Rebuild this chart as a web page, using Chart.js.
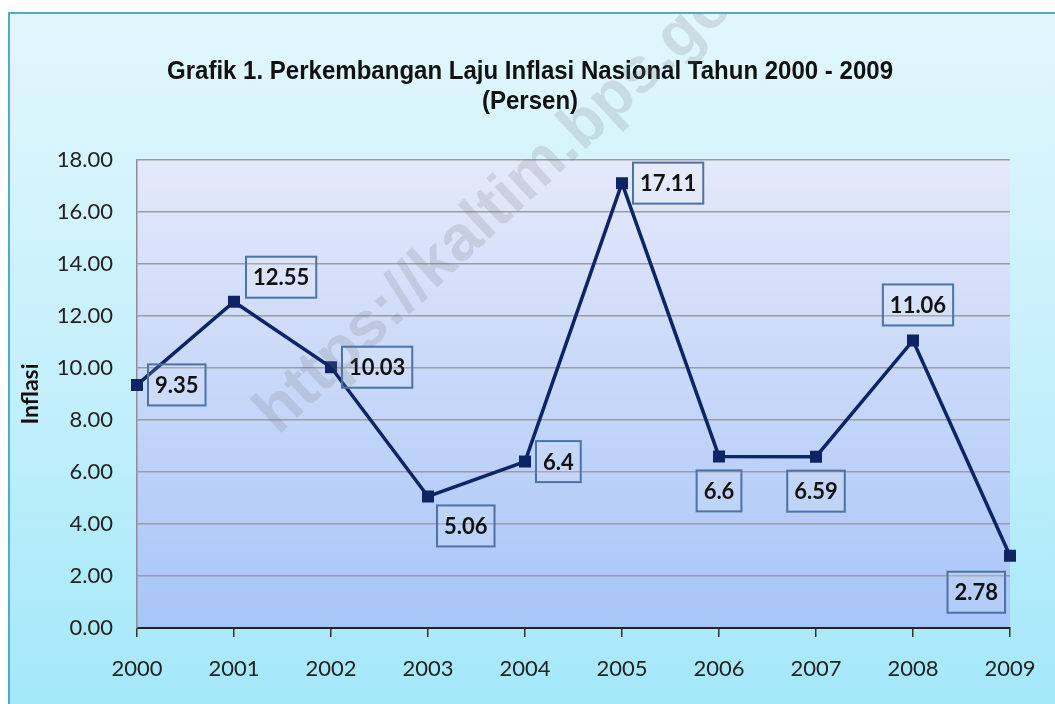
<!DOCTYPE html>
<html>
<head>
<meta charset="utf-8">
<script src="https://cdn.jsdelivr.net/npm/chart.js@4.4.1/dist/chart.umd.min.js"></script>
<style>
  html, body { margin: 0; padding: 0; background: #fff; overflow: hidden; }
  #frame {
    position: absolute; left: 8px; top: 12px;
    width: 1060px; height: 700px;
    border: 2px solid #4aaecb;
    background: linear-gradient(to bottom, #e1f7fc 0%, #c6f0fb 50%, #a3e8f9 100%);
  }
  #frame canvas { display: block; }
</style>
</head>
<body>
<div id="frame"><canvas id="inflasiChart" width="1060" height="700"></canvas></div>
<script>
// data
const years = ["2000","2001","2002","2003","2004","2005","2006","2007","2008","2009"];
const inflasi = [9.35, 12.55, 10.03, 5.06, 6.4, 17.11, 6.6, 6.59, 11.06, 2.78];
const valueLabels = ["9.35","12.55","10.03","5.06","6.4","17.11","6.6","6.59","11.06","2.78"];
// where each label box sits relative to its point
const labelAnchor = ["r","ar","r","br","r","r","b","b","a","bl"];
const titleLines = ["Grafik 1. Perkembangan Laju Inflasi Nasional Tahun 2000 - 2009", "(Persen)"];

// plot area gradient
const plotBg = {
  id: "plotBg",
  beforeDraw(chart) {
    const { ctx, chartArea: a } = chart;
    const g = ctx.createLinearGradient(0, a.top, 0, a.bottom);
    g.addColorStop(0, "#e5e9fa");
    g.addColorStop(1, "#a7c5f8");
    ctx.save();
    ctx.fillStyle = g;
    ctx.fillRect(a.left, a.top, a.right - a.left, a.bottom - a.top);
    ctx.restore();
  }
};

// title + boxed value labels + watermark
const extras = {
  id: "extras",
  afterDraw(chart) {
    const ctx = chart.ctx;
    const pts = chart.getDatasetMeta(0).data;

    // title, squeezed a bit like a narrow font
    ctx.save();
    ctx.fillStyle = "#111";
    ctx.textAlign = "center";
    ctx.textBaseline = "middle";
    ctx.font = "bold 26px 'Liberation Sans', Arial, sans-serif";
    const squeeze = 726 / ctx.measureText(titleLines[0]).width;
    titleLines.forEach((t, i) => {
      const w = ctx.measureText(t).width * squeeze;
      ctx.fillText(t, 520, 58 + i * 30, w);
    });
    ctx.restore();

    ctx.save();
    ctx.font = "bold 22px Lato, 'Open Sans', sans-serif";
    ctx.textBaseline = "middle";
    ctx.textAlign = "center";
    pts.forEach((p, i) => {
      const txt = valueLabels[i];
      const w = ctx.measureText(txt).width + 14;
      const h = 41;
      let bx, by;
      switch (labelAnchor[i]) {
        case "r":  bx = p.x + 11; by = p.y - h / 2; break;
        case "ar": bx = p.x + 12; by = p.y - 4 - h; break;
        case "br": bx = p.x + 9;  by = p.y + 9; break;
        case "b":  bx = p.x - w / 2; by = p.y + 14; break;
        case "a":  bx = p.x + 5 - w / 2; by = p.y - 15 - h; break;
        case "bl": bx = p.x - 5 - w; by = p.y + 16; break;
      }
      ctx.fillStyle = "rgba(255,255,255,0.12)";
      ctx.fillRect(bx, by, w, h);
      ctx.strokeStyle = "#4d72a6";
      ctx.lineWidth = 2;
      ctx.strokeRect(bx, by, w, h);
      ctx.fillStyle = "#111";
      ctx.fillText(txt, bx + w / 2, by + h / 2 + 1);
    });
    ctx.restore();

    // watermark
    ctx.save();
    ctx.translate(512, 170);
    ctx.rotate(-43 * Math.PI / 180);
    ctx.font = "bold 64px 'Liberation Sans', Arial, sans-serif";
    ctx.fillStyle = "rgba(120,120,125,0.2)";
    ctx.textAlign = "center";
    ctx.textBaseline = "middle";
    ctx.fillText("https://kaltim.bps.go.id", 0, 0);
    ctx.restore();
  }
};

new Chart(document.getElementById("inflasiChart"), {
  type: "line",
  data: {
    labels: years,
    datasets: [{
      label: "Inflasi",
      data: inflasi,
      borderColor: "#0e2565",
      backgroundColor: "#0e2565",
      borderWidth: 3.5,
      pointStyle: "rect",
      pointRadius: 6,
      pointHoverRadius: 6,
      tension: 0
    }]
  },
  options: {
    responsive: false,
    animation: false,
    layout: { padding: { top: 146, right: 60, left: 0, bottom: 0 } },
    plugins: {
      legend: { display: false },
      title: { display: false },
      tooltip: { enabled: false }
    },
    scales: {
      x: {
        offset: false,
        afterFit(s) { s.height = 86; },
        grid: {
          drawOnChartArea: false,
          drawTicks: true,
          tickLength: 9,
          color: "#333",
          lineWidth: 1.5
        },
        border: { color: "#222", width: 2 },
        ticks: {
          padding: 19,
          color: "#222",
          maxRotation: 0,
          font: { family: "Lato, 'Open Sans', sans-serif", size: 22 }
        }
      },
      y: {
        min: 0,
        max: 18,
        afterFit(s) { s.width = 127; },
        grid: { color: "#9c9ca6", lineWidth: 1.5, drawTicks: false },
        border: { color: "#8e8e96", width: 1.5 },
        ticks: {
          stepSize: 2,
          padding: 24,
          color: "#222",
          font: { family: "Lato, 'Open Sans', sans-serif", size: 22 },
          callback: v => v.toFixed(2)
        },
        title: {
          display: true,
          text: "Inflasi",
          color: "#111",
          padding: { top: 7, bottom: 0 },
          font: { family: "Lato, 'Open Sans', sans-serif", size: 23, weight: "bold" }
        }
      }
    }
  },
  plugins: [plotBg, extras]
});
</script>
</body>
</html>
